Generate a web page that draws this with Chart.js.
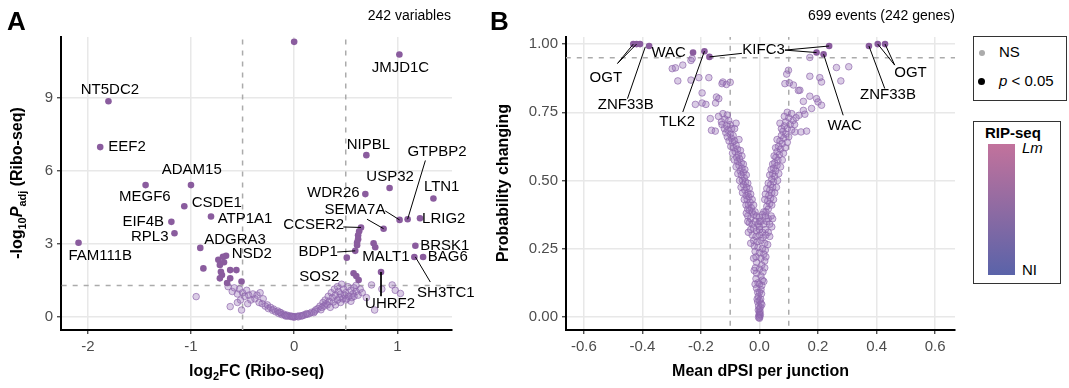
<!DOCTYPE html>
<html>
<head>
<meta charset="utf-8">
<script src="https://cdn.jsdelivr.net/npm/chart.js@4.4.1/dist/chart.umd.min.js"></script>
<style>
  body { margin: 0; background: #fff; font-family: "Liberation Sans", Arial, sans-serif; }
  #wrap { position: relative; width: 1069px; height: 388px; background: #fff; overflow: hidden; }
  canvas { position: absolute; top: 0; }
  .box { position: absolute; border: 1.5px solid #333; background: #fff; box-sizing: border-box; }
  .lg { position: absolute; font-size: 15px; color: #000; white-space: nowrap; }
</style>
</head>
<body>
<div id="wrap">
  <canvas id="chartB" width="490" height="388" style="left:470px"></canvas>
  <canvas id="chartA" width="490" height="388" style="left:0"></canvas>

  <div class="box" style="left:973px;top:36px;width:94px;height:65px"></div>
  <div style="position:absolute;left:979px;top:50px;width:6px;height:6px;border-radius:50%;background:#ababab"></div>
  <div class="lg" style="left:999px;top:43px">NS</div>
  <div style="position:absolute;left:978px;top:78px;width:7px;height:7px;border-radius:50%;background:#000"></div>
  <div class="lg" style="left:999px;top:72px"><i>p</i> &lt; 0.05</div>

  <div class="box" style="left:973px;top:121px;width:88px;height:163px"></div>
  <div class="lg" style="left:985px;top:124px;font-weight:bold">RIP-seq</div>
  <div style="position:absolute;left:988px;top:144px;width:27px;height:131px;background:linear-gradient(#c2729c,#5a63a9)"></div>
  <div class="lg" style="left:1022px;top:139px;font-style:italic">Lm</div>
  <div class="lg" style="left:1022px;top:261px">NI</div>
</div>
<script>
// ---------- panel A: Ribo-seq volcano ----------
const aXTicks = [-2, -1, 0, 1];
const aXTickLabels = ['-2', '-1', '0', '1'];
const aYTicks = [0, 3, 6, 9];
const aYTickLabels = ['0', '3', '6', '9'];

const aSigX = [0.0, 1.02, -1.80, -1.88, 0.70, -1.44, -1.0, 0.925, 0.69, 1.35, -1.065, -0.806, 1.22, 1.10, 1.022,
  -1.19, 0.648, 0.867, -1.16, -2.09, 1.175, -0.91, 0.77, 0.786, 0.592, -0.66, 1.25, 1.165, 0.842, 0.576,
  0.63, 0.62, 0.62, 0.61, 0.61, 0.51, 0.602, 0.625,
  -0.88, -0.735, -0.72, -0.69, -0.62, -0.56, -0.70, -0.72, -0.62, -0.51, -0.65, -0.71, -0.68];
const aSigY = [11.3, 10.78, 8.86, 6.98, 6.65, 5.42, 5.42, 5.30, 5.05, 4.87, 4.55, 4.13, 4.06, 4.02, 3.99,
  3.91, 3.68, 3.63, 3.44, 3.05, 2.93, 2.84, 3.03, 2.87, 2.72, 2.52, 2.47, 2.47, 1.85, 1.80,
  3.52, 3.36, 3.20, 3.06, 2.95, 2.44, 1.69, 1.52,
  2.0, 2.35, 2.14, 2.48, 1.93, 1.93, 1.73, 1.59, 1.59, 1.46, 1.40, 1.86, 2.25];

const aNsX = [-0.95, -0.64, -0.60, -0.58, -0.55, -0.53, -0.50, -0.48, -0.46, -0.44, -0.42, -0.40, -0.38, -0.36,
  -0.34, -0.33, -0.31, -0.30, -0.28, -0.26, -0.25, -0.23, -0.21, -0.20, -0.18, -0.16, -0.15, -0.13, -0.12,
  -0.10, -0.09, -0.07, -0.06, -0.04, -0.03, -0.01, 0.0, 0.01, 0.03, 0.05, 0.07, 0.09, 0.11, 0.13, 0.15,
  0.17, 0.19, 0.21, 0.23, 0.25, 0.27, 0.28, 0.30, 0.31, 0.33, 0.34, 0.36, 0.37, 0.39, 0.40, 0.42, 0.43,
  0.45, 0.46, 0.48, 0.50, 0.52, 0.53, 0.55, 0.57, 0.58, 0.60, 0.62, 0.64, 0.66, 0.75, 0.78, 0.95, 0.98,
  1.03, 0.85, -0.62, -0.51, -0.52, -0.45, -0.55, 0.70, 0.40, 0.45, 0.50, 0.55, 0.35, 0.60, 0.47, 0.38,
  0.44, 0.56, 0.32, 0.29, -0.02, 0.04, 0.08, -0.08, 0.12, -0.14, 0.2, 0.26, 0.42, 0.49, 0.51, 0.58];
const aNsY = [0.84, 1.25, 1.05, 1.20, 0.95, 1.15, 1.0, 0.85, 1.10, 0.90, 0.70, 0.95, 0.75, 0.90,
  0.60, 1.0, 0.55, 0.75, 0.45, 0.50, 0.35, 0.40, 0.28, 0.33, 0.22, 0.25, 0.15, 0.18, 0.10,
  0.12, 0.07, 0.08, 0.04, 0.05, 0.02, 0.01, 0.0, 0.02, 0.03, 0.05, 0.04, 0.08, 0.10, 0.12, 0.15,
  0.20, 0.18, 0.30, 0.35, 0.45, 0.40, 0.60, 0.70, 0.55, 0.85, 0.65, 1.0, 0.80, 1.15, 0.90, 1.25, 1.05,
  0.95, 1.35, 1.15, 1.0, 1.25, 0.85, 1.10, 0.95, 1.20, 1.05, 0.90, 1.15, 1.0, 1.32, 0.29, 1.32, 1.10,
  0.97, 1.15, 0.43, 0.29, 0.70, 0.55, 0.60, 0.80, 0.50, 0.60, 0.70, 0.65, 0.40, 1.30, 0.75, 0.62,
  0.80, 0.80, 0.50, 0.45, 0.03, 0.01, 0.06, 0.04, 0.14, 0.2, 0.24, 0.3, 0.7, 0.9, 0.75, 0.85];

const aLabels = ['JMJD1C', 'NT5DC2', 'EEF2', 'ADAM15', 'MEGF6', 'CSDE1', 'ATP1A1', 'EIF4B', 'RPL3', 'FAM111B',
  'ADGRA3', 'NSD2', 'NIPBL', 'GTPBP2', 'USP32', 'WDR26', 'LTN1', 'SEMA7A', 'LRIG2', 'CCSER2', 'BDP1',
  'MALT1', 'BRSK1', 'BAG6', 'SH3TC1', 'UHRF2', 'SOS2'];
const aLabelX = [1.03, -1.786, -1.62, -0.993, -1.447, -0.75, -0.476, -1.463, -1.40, -1.88,
  -0.573, -0.41, 0.72, 1.385, 0.93, 0.38, 1.43, 0.59, 1.45, 0.19, 0.233,
  0.89, 1.46, 1.49, 1.47, 0.93, 0.243];
const aLabelY = [10.23, 9.34, 7.0, 6.05, 4.95, 4.68, 4.03, 3.9, 3.31, 2.51,
  3.17, 2.58, 7.08, 6.8, 5.77, 5.12, 5.34, 4.4, 4.02, 3.78, 2.69,
  2.48, 2.92, 2.46, 0.98, 0.56, 1.66];
// leader segments: [labelX, labelY, pointX, pointY]
const aLeaders = [[0.476, 3.70, 0.648, 3.68], [0.417, 2.67, 0.592, 2.72], [0.883, 4.36, 1.022, 3.99],
  [0.706, 4.02, 0.867, 3.63], [1.272, 6.43, 1.10, 4.02], [0.842, 1.85, 0.842, 0.86], [1.175, 2.47, 1.32, 1.44]];

// ---------- panel B: splicing ----------
const bXTicks = [-0.6, -0.4, -0.2, 0, 0.2, 0.4, 0.6];
const bXTickLabels = ['-0.6', '-0.4', '-0.2', '0.0', '0.2', '0.4', '0.6'];
const bYTicks = [0, 0.25, 0.5, 0.75, 1];
const bYTickLabels = ['0.00', '0.25', '0.50', '0.75', '1.00'];

const bSigX = [-0.431, -0.42, -0.408, -0.377, -0.227, -0.188, -0.171, 0.195, 0.219, 0.238, 0.374, 0.404, 0.429];
const bSigY = [1.0, 1.0, 1.0, 0.993, 0.969, 0.974, 0.953, 0.969, 0.963, 0.993, 0.993, 1.0, 1.0];

const bNsX = [
  -0.298, -0.287, -0.262, -0.279, -0.234, -0.234, -0.207, -0.173, -0.196, -0.219, -0.196, -0.183, -0.168,
  -0.147, -0.139, -0.125, -0.113, -0.15, -0.164, -0.151, -0.1, -0.128, -0.23,
  0.172, 0.172, 0.206, 0.263, 0.305, 0.278, 0.212, 0.138, 0.172, 0.195, 0.2, 0.212, 0.178, 0.15, 0.155,
  0.135, 0.161, 0.142, 0.121, 0.102, 0.099, 0.087, 0.116, 0.133, 0.15, 0.093,
  -0.125, -0.11, -0.118, -0.13, -0.105, -0.112, -0.1, -0.095, -0.108, -0.115, -0.1, -0.09, -0.096, -0.085,
  -0.092, -0.08, -0.088, -0.075, -0.083, -0.072, -0.078, -0.068, -0.075, -0.062, -0.07, -0.06, -0.066,
  -0.055, -0.062, -0.052, -0.058, -0.048, -0.055, -0.044, -0.05, -0.04, -0.046, -0.036, -0.042, -0.032,
  -0.038, -0.028, -0.034, -0.025,
  0.095, 0.11, 0.1, 0.115, 0.09, 0.105, 0.085, 0.095, 0.08, 0.09, 0.075, 0.083, 0.07, 0.078, 0.065, 0.072,
  0.06, 0.068, 0.056, 0.063, 0.052, 0.06, 0.048, 0.055, 0.045, 0.052, 0.042, 0.048, 0.038, 0.045, 0.035,
  0.042, 0.032, 0.038, 0.028, 0.035, 0.025, 0.03, 0.022,
  -0.04, -0.03, -0.02, -0.01, 0.0, 0.01, 0.02, 0.03, 0.04, -0.035, -0.025, -0.015, -0.005, 0.005, 0.015,
  0.025, 0.035, -0.03, -0.02, -0.01, 0.0, 0.01, 0.02, 0.03, -0.025, -0.012, 0.0, 0.012, 0.022, -0.02,
  -0.008, 0.005, 0.018,
  -0.018, -0.005, 0.01, 0.02, -0.015, 0.0, 0.015, -0.012, 0.005, 0.018, -0.01, 0.008, -0.014, 0.0, 0.012,
  -0.01, 0.005, -0.012, 0.01, -0.005, 0.008, -0.01, 0.005, -0.006, 0.007, -0.004, 0.004, -0.006, 0.005,
  -0.003, 0.003, -0.004, 0.002, 0.0, -0.002, 0.001, 0.0,
  -0.14, -0.128, -0.12, -0.11, -0.104, -0.098, -0.092, -0.086, -0.08, -0.074, -0.068, -0.063, -0.058, -0.052,
  -0.046, -0.04, -0.07, -0.065, -0.06, -0.055, -0.05, -0.045, -0.04, -0.035, -0.03, -0.025, -0.02, -0.085,
  -0.08,
  0.125, 0.12, 0.11, 0.1, 0.095, 0.088, 0.082, 0.078, 0.072, 0.066, 0.062, 0.058, 0.052, 0.048, 0.042, 0.06,
  0.055, 0.05, 0.045, 0.04, 0.035, 0.03, 0.025, 0.02, 0.018, 0.075, 0.07, 0.085,
  -0.045, -0.04, 0.045, 0.042, -0.038, 0.035, -0.015, 0.015, -0.03, 0.028, 0.0, 0.0,
  -0.02, 0.022, -0.018, 0.018, -0.015, 0.015, 0.0, 0.0, -0.008, 0.008, 0.0, 0.0, 0.0, 0.003, -0.003];
const bNsY = [
  0.91, 0.913, 0.923, 0.865, 0.94, 0.868, 0.877, 0.877, 0.821, 0.779, 0.784, 0.779, 0.727,
  0.806, 0.80, 0.861, 0.852, 0.784, 0.684, 0.681, 0.86, 0.855, 0.947,
  0.951, 0.882, 0.877, 0.914, 0.917, 0.865, 0.861, 0.831, 0.809, 0.80, 0.788, 0.776, 0.764, 0.757, 0.743,
  0.739, 0.681, 0.678, 0.678, 0.858, 0.904, 0.855, 0.85, 0.83, 0.79, 0.89,
  0.745, 0.74, 0.725, 0.715, 0.72, 0.70, 0.705, 0.69, 0.685, 0.675, 0.67, 0.665, 0.655, 0.645,
  0.64, 0.63, 0.62, 0.615, 0.605, 0.595, 0.585, 0.58, 0.57, 0.565, 0.555, 0.545, 0.535,
  0.53, 0.52, 0.51, 0.50, 0.495, 0.485, 0.475, 0.465, 0.455, 0.445, 0.44, 0.43, 0.42,
  0.41, 0.40, 0.39, 0.385,
  0.75, 0.745, 0.73, 0.72, 0.715, 0.705, 0.70, 0.69, 0.68, 0.67, 0.665, 0.655, 0.645, 0.635, 0.625, 0.615,
  0.605, 0.595, 0.585, 0.575, 0.565, 0.555, 0.545, 0.535, 0.525, 0.515, 0.505, 0.495, 0.485, 0.475, 0.465,
  0.455, 0.445, 0.435, 0.425, 0.415, 0.405, 0.395, 0.385,
  0.37, 0.36, 0.375, 0.37, 0.365, 0.375, 0.37, 0.36, 0.37, 0.345, 0.34, 0.35, 0.34, 0.35, 0.34,
  0.35, 0.34, 0.32, 0.325, 0.315, 0.32, 0.31, 0.32, 0.31, 0.30, 0.295, 0.30, 0.29, 0.30, 0.28,
  0.275, 0.28, 0.27,
  0.26, 0.255, 0.25, 0.245, 0.24, 0.235, 0.23, 0.22, 0.215, 0.205, 0.20, 0.19, 0.18, 0.175, 0.165,
  0.16, 0.15, 0.14, 0.135, 0.125, 0.115, 0.105, 0.10, 0.09, 0.085, 0.075, 0.065, 0.055, 0.05,
  0.04, 0.035, 0.025, 0.02, 0.01, 0.005, 0.0, -0.005,
  0.735, 0.705, 0.69, 0.66, 0.645, 0.625, 0.60, 0.575, 0.55, 0.525, 0.50, 0.475, 0.455, 0.43,
  0.41, 0.395, 0.65, 0.61, 0.59, 0.56, 0.54, 0.52, 0.49, 0.47, 0.45, 0.43, 0.41, 0.69,
  0.71,
  0.73, 0.705, 0.685, 0.66, 0.64, 0.62, 0.60, 0.575, 0.55, 0.525, 0.50, 0.475, 0.455, 0.43, 0.41, 0.65,
  0.62, 0.59, 0.56, 0.54, 0.52, 0.49, 0.47, 0.45, 0.43, 0.69, 0.71, 0.735,
  0.38, 0.35, 0.36, 0.33, 0.31, 0.295, 0.385, 0.385, 0.27, 0.265, 0.33, 0.35,
  0.215, 0.22, 0.17, 0.18, 0.12, 0.13, 0.06, 0.03, 0.065, 0.045, 0.09, 0.12, 0.015, 0.008, -0.002];

const bLabels = ['OGT', 'ZNF33B', 'WAC', 'TLK2', 'KIFC3', 'WAC', 'ZNF33B', 'OGT'];
const bLabelX = [-0.525, -0.457, -0.31, -0.281, 0.014, 0.291, 0.439, 0.516];
const bLabelY = [0.877, 0.776, 0.969, 0.714, 0.98, 0.699, 0.8125, 0.894];
const bLeaders = [[-0.485, 0.929, -0.431, 1.0], [-0.485, 0.929, -0.42, 1.0], [-0.451, 0.80, -0.39, 0.99],
  [-0.262, 0.751, -0.188, 0.974], [-0.06, 0.966, -0.171, 0.953], [0.087, 0.978, 0.238, 0.993],
  [0.087, 0.978, 0.195, 0.969], [0.286, 0.739, 0.219, 0.963], [0.428, 0.837, 0.374, 0.993],
  [0.462, 0.923, 0.404, 1.0], [0.462, 0.923, 0.429, 1.0]];

// ---------- drawing ----------
const FONT = '"Liberation Sans", Arial, sans-serif';
const SIG = '#8a5c9e';
const NS_FILL = 'rgba(150,110,180,0.35)';
const NS_LINE = 'rgba(140,100,170,0.65)';
const DASH = '#ababab';

const pts = (xs, ys) => xs.map((x, i) => ({ x: x, y: ys[i] }));

function drawRich(ctx, parts, cx, cy, rotate) {
  ctx.save();
  ctx.translate(cx, cy);
  if (rotate) ctx.rotate(-Math.PI / 2);
  ctx.textBaseline = 'middle';
  ctx.textAlign = 'left';
  ctx.fillStyle = '#000';
  const fontOf = p => (p.italic ? 'italic ' : '') + 'bold ' + (p.sub ? 11 : 16) + 'px ' + FONT;
  let total = 0;
  parts.forEach(p => { ctx.font = fontOf(p); total += ctx.measureText(p.t).width; });
  let pos = -total / 2;
  parts.forEach(p => {
    ctx.font = fontOf(p);
    ctx.fillText(p.t, pos, p.sub ? 5 : 0);
    pos += ctx.measureText(p.t).width;
  });
  ctx.restore();
}

const panelText = {
  id: 'panelText',
  afterDatasetsDraw(chart, args, o) {
    const { ctx, scales: { x, y } } = chart;
    ctx.save();
    ctx.fillStyle = '#000';
    ctx.font = '15px ' + FONT;
    ctx.textAlign = 'center';
    ctx.textBaseline = 'middle';
    o.names.forEach((n, i) => ctx.fillText(n, x.getPixelForValue(o.xs[i]), y.getPixelForValue(o.ys[i])));
    ctx.font = 'bold 26px ' + FONT;
    ctx.textAlign = 'left';
    ctx.fillText(o.letter, o.letterX, 23);
    ctx.font = '14px ' + FONT;
    ctx.textAlign = 'right';
    ctx.fillText(o.sub, o.subX, 16);
    ctx.restore();
    drawRich(ctx, o.xTitle, (chart.chartArea.left + chart.chartArea.right) / 2, 372, false);
    drawRich(ctx, o.yTitle, o.yTitleX, 183, true);
  }
};

function lineSets(segs) {
  return segs.map(s => ({
    data: [{ x: s[0], y: s[1] }, { x: s[2], y: s[3] }],
    showLine: true, borderColor: '#000', borderWidth: 1, pointRadius: 0, order: 1
  }));
}

function refSet(a, b) {
  return { data: [a, b], showLine: true, borderColor: DASH, borderWidth: 1.5, borderDash: [5, 6],
    pointRadius: 0, order: 10 };
}

function axis(min, max, ticks, labels, fitKey, fitVal) {
  return {
    type: 'linear', min: min, max: max,
    afterBuildTicks: s => { s.ticks = ticks.map(v => ({ value: v })); },
    afterFit: s => { s[fitKey] = fitVal; },
    ticks: { font: { size: 15, family: FONT }, color: '#4d4d4d', padding: 4,
      callback: (v, i) => labels[i] },
    grid: { color: '#e8e8e8', lineWidth: 1.5, tickColor: '#333', tickLength: 4, tickWidth: 1.2 },
    border: { color: '#000', width: 2 }
  };
}

function makeChart(id, cfg) {
  return new Chart(document.getElementById(id), {
    type: 'scatter',
    data: { datasets: [
      ...cfg.refs,
      { data: pts(cfg.nsX, cfg.nsY), backgroundColor: NS_FILL, borderColor: NS_LINE, borderWidth: 1,
        pointRadius: 3.3, order: 5 },
      { data: pts(cfg.sigX, cfg.sigY), backgroundColor: SIG, borderColor: SIG, borderWidth: 0,
        pointRadius: 3.3, order: 3 },
      ...lineSets(cfg.leaders)
    ] },
    options: {
      responsive: false, animation: false, devicePixelRatio: 1,
      layout: { padding: cfg.padding },
      plugins: { legend: { display: false }, tooltip: { enabled: false }, panelText: cfg.text },
      scales: {
        x: axis(cfg.xMin, cfg.xMax, cfg.xTicks, cfg.xLabels, 'height', 58),
        y: axis(cfg.yMin, cfg.yMax, cfg.yTicks, cfg.yLabels, 'width', cfg.yWidth)
      }
    },
    plugins: [panelText]
  });
}

makeChart('chartA', {
  nsX: aNsX, nsY: aNsY, sigX: aSigX, sigY: aSigY, leaders: aLeaders,
  refs: [refSet({ x: -0.5, y: -1 }, { x: -0.5, y: 12 }), refSet({ x: 0.5, y: -1 }, { x: 0.5, y: 12 }),
    refSet({ x: -3, y: 1.3 }, { x: 2, y: 1.3 })],
  padding: { top: 37, right: 38, left: 0, bottom: 0 },
  xMin: -2.26, xMax: 1.53, yMin: -0.53, yMax: 11.5, yWidth: 61,
  xTicks: aXTicks, xLabels: aXTickLabels, yTicks: aYTicks, yLabels: aYTickLabels,
  text: { names: aLabels, xs: aLabelX, ys: aLabelY, letter: 'A', letterX: 7, sub: '242 variables', subX: 451,
    xTitle: [{ t: 'log' }, { t: '2', sub: 1 }, { t: 'FC (Ribo-seq)' }],
    yTitle: [{ t: '-log' }, { t: '10', sub: 1 }, { t: 'P', italic: 1 }, { t: 'adj', sub: 1 }, { t: ' (Ribo-seq)' }],
    yTitleX: 18 }
});

makeChart('chartB', {
  nsX: bNsX, nsY: bNsY, sigX: bSigX, sigY: bSigY, leaders: bLeaders,
  refs: [refSet({ x: -0.1, y: -1 }, { x: -0.1, y: 2 }), refSet({ x: 0.1, y: -1 }, { x: 0.1, y: 2 }),
    refSet({ x: -1, y: 0.95 }, { x: 1, y: 0.95 })],
  padding: { top: 37, right: 3, left: 0, bottom: 0 },
  xMin: -0.661, xMax: 0.668, yMin: -0.048, yMax: 1.026, yWidth: 96,
  xTicks: bXTicks, xLabels: bXTickLabels, yTicks: bYTicks, yLabels: bYTickLabels,
  text: { names: bLabels, xs: bLabelX, ys: bLabelY, letter: 'B', letterX: 20, sub: '699 events (242 genes)',
    subX: 485,
    xTitle: [{ t: 'Mean dPSI per junction' }],
    yTitle: [{ t: 'Probability changing' }],
    yTitleX: 34 }
});
</script>
</body>
</html>
